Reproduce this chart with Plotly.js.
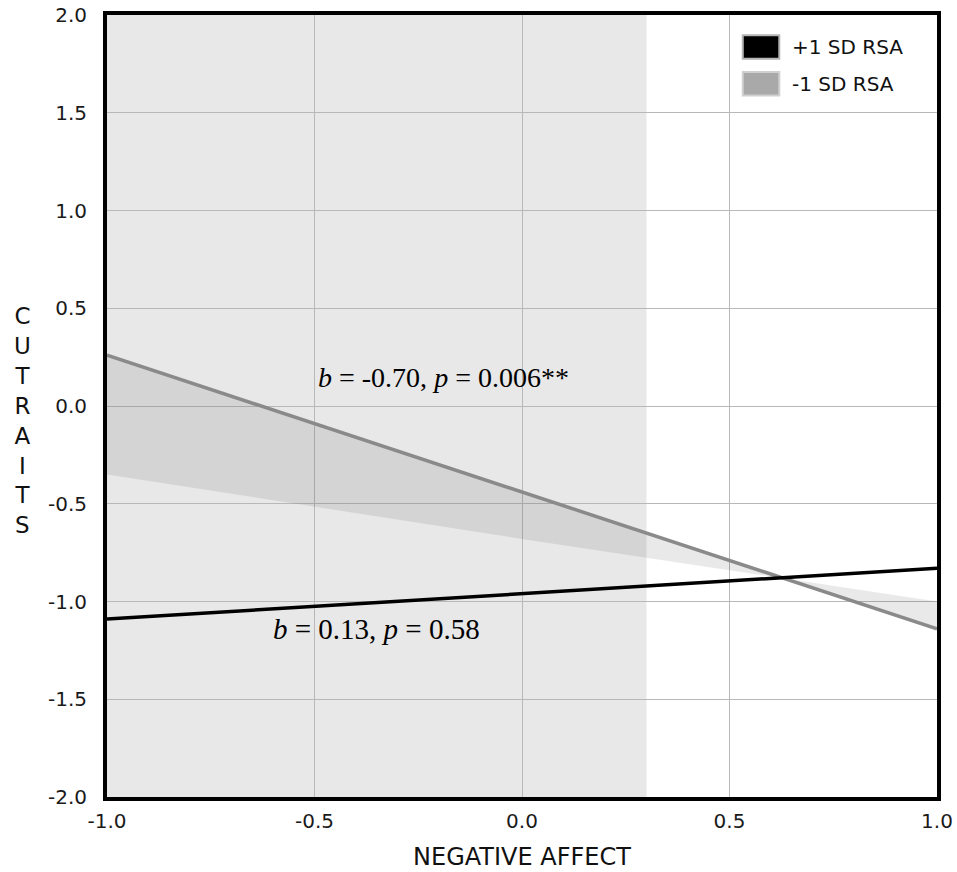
<!DOCTYPE html>
<html><head><meta charset="utf-8">
<script src="https://cdn.plot.ly/plotly-3.0.1.min.js"></script>
<style>html,body{margin:0;padding:0;background:#fff}#chart{width:957px;height:872px}</style>
</head><body><div id="chart"></div>
<script>
// ---- data ----
const xValues = [-1.0, 0.0, 1.0];
const highRSA = [-1.09, -0.96, -0.83];      // +1 SD RSA
const lowRSA = [0.26, -0.44, -1.14];        // -1 SD RSA
const lowRSABandEdge = [-0.35, -0.68, -1.00];
const seriesNames = ['+1 SD RSA', '-1 SD RSA'];
const regionOfSignificance = [-1.0, 0.30];
const xTickVals = [-1.0, -0.5, 0.0, 0.5, 1.0];
const xTickLabels = ['-1.0', '-0.5', '0.0', '0.5', '1.0'];
const yTickVals = [-2.0, -1.5, -1.0, -0.5, 0.0, 0.5, 1.0, 1.5, 2.0];
const yTickLabels = ['-2.0', '-1.5', '-1.0', '-0.5', '0.0', '0.5', '1.0', '1.5', '2.0'];
const slopeLabels = ['<i>b</i> = -0.70, <i>p</i> = 0.006**', '<i>b</i> = 0.13, <i>p</i> = 0.58'];
const xTitle = 'NEGATIVE AFFECT';
const yTitle = 'CUTRAITS';

const sans = 'DejaVu Sans, Verdana, sans-serif';
const serif = 'Liberation Serif, Times New Roman, serif';

const traces = [
  {x: xValues, y: lowRSABandEdge, mode: 'lines', line: {width: 0, color: 'rgba(0,0,0,0)'},
   showlegend: false, hoverinfo: 'skip'},
  {x: xValues, y: lowRSA, mode: 'lines', fill: 'tonexty', fillcolor: 'rgba(0,0,0,0.085)',
   line: {color: '#8a8a8a', width: 3.5}, name: seriesNames[1], showlegend: false},
  {x: xValues, y: highRSA, mode: 'lines', line: {color: '#000000', width: 3.5},
   name: seriesNames[0], showlegend: false}
];

const axisCommon = {
  showline: true, mirror: true, linewidth: 4, linecolor: '#000',
  showgrid: true, gridcolor: '#b8b8b8', gridwidth: 1, zeroline: false,
  ticks: '', tickfont: {family: sans, size: 20, color: '#1a1a1a'}
};

const layout = {
  width: 957, height: 872,
  margin: {l: 107, r: 20, t: 15, b: 75},
  paper_bgcolor: '#fff', plot_bgcolor: '#fff',
  showlegend: false,
  xaxis: Object.assign({}, axisCommon, {
    range: [-1, 1], tickvals: xTickVals, ticktext: xTickLabels, ticklabelstandoff: 3,
    title: {text: xTitle, font: {family: sans, size: 24, color: '#111'}, standoff: 17}
  }),
  yaxis: Object.assign({}, axisCommon, {
    range: [-2, 2], tickvals: yTickVals, ticktext: yTickLabels, ticklabelstandoff: 12
  }),
  shapes: [
    {type: 'rect', xref: 'x', yref: 'paper', x0: regionOfSignificance[0], x1: regionOfSignificance[1],
     y0: 0, y1: 1, fillcolor: '#e8e8e8', line: {width: 0}, layer: 'below'},
    // legend swatches
    {type: 'rect', xref: 'paper', yref: 'paper', x0: 0.766, x1: 0.810, y0: 0.944, y1: 0.974,
     fillcolor: '#000', line: {color: '#b4b4b4', width: 2}},
    {type: 'rect', xref: 'paper', yref: 'paper', x0: 0.766, x1: 0.810, y0: 0.897, y1: 0.927,
     fillcolor: '#a9a9a9', line: {color: '#d0d0d0', width: 2}}
  ],
  annotations: [
    {xref: 'x', yref: 'y', x: -0.19, y: 0.145, text: slopeLabels[0], showarrow: false,
     font: {family: serif, size: 28, color: '#000'}},
    {xref: 'x', yref: 'y', x: -0.35, y: -1.14, text: slopeLabels[1], showarrow: false,
     font: {family: serif, size: 29, color: '#000'}},
    {xref: 'paper', yref: 'paper', x: 0.823, y: 0.959, xanchor: 'left', yanchor: 'middle',
     text: seriesNames[0], showarrow: false, font: {family: sans, size: 20, color: '#111'}},
    {xref: 'paper', yref: 'paper', x: 0.823, y: 0.912, xanchor: 'left', yanchor: 'middle',
     text: seriesNames[1], showarrow: false, font: {family: sans, size: 20, color: '#111'}},
    {xref: 'paper', yref: 'paper', x: -0.1024, y: 0.482, xanchor: 'center', yanchor: 'middle',
     text: yTitle.split('').join('<br>'), showarrow: false,
     font: {family: sans, size: 23, color: '#111'}}
  ]
};

Plotly.newPlot('chart', traces, layout, {displayModeBar: false, staticPlot: true});
</script>
</body></html>
